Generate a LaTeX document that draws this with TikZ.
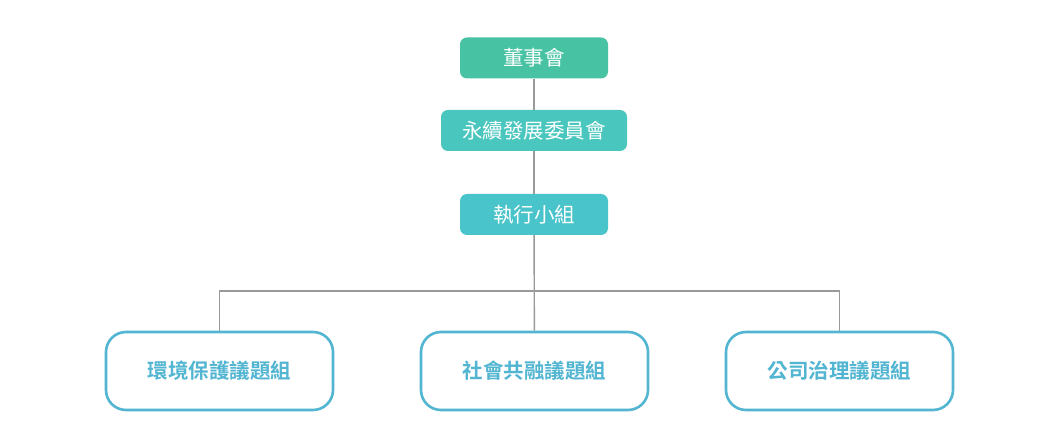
\documentclass[tikz,border=0pt]{standalone}
\usepackage{fontspec}
\setmainfont{Noto Sans CJK TC}[BoldFont={Noto Sans CJK TC Bold}]
\usetikzlibrary{positioning}

\definecolor{boardgreen}{HTML}{47C3A3}
\definecolor{committeeteal}{HTML}{49C6BD}
\definecolor{taskcyan}{HTML}{4AC4CB}
\definecolor{groupblue}{HTML}{52B5D1}
\definecolor{linkgray}{HTML}{999999}

\tikzset{
	headbox/.style={draw=none,rounded corners=7pt,minimum height=41pt,
		text=white,font=\fontsize{20.5pt}{24pt}\selectfont,inner sep=0pt},
	groupbox/.style={draw=groupblue,line width=2.6pt,fill=white,rounded corners=20pt,
		minimum width=227pt,minimum height=78pt,text=groupblue,
		font=\fontsize{20.5pt}{24pt}\selectfont\bfseries},
	link/.style={draw=linkgray,line width=1.4pt}
}

\begin{document}
\begin{tikzpicture}[x=1pt,y=-1pt]
	\useasboundingbox[fill=white] (0,0) rectangle (1060,443);
	% Upper chain
	\node[headbox,fill=boardgreen,minimum width=148pt] (board) at (534,58) {董事會};
	\node[headbox,fill=committeeteal,minimum width=186pt] (committee) at (534,130.5) {永續發展委員會};
	\node[headbox,fill=taskcyan,minimum width=148pt] (task) at (534,214.5) {執行小組};
	% Issue groups
	\node[groupbox] (env) at (219.5,371) {環境保護議題組};
	\node[groupbox] (soc) at (534.5,371) {社會共融議題組};
	\node[groupbox] (gov) at (839.5,371) {公司治理議題組};
	\coordinate (bus) at (534,291);
	% Connectors
	\draw[link] (board) -- (committee);
	\draw[link] (committee) -- (task);
	\draw[link] (task) -- (soc);
	\draw[link] (env.north) |- (bus) -| (gov.north);
\end{tikzpicture}
\end{document}
